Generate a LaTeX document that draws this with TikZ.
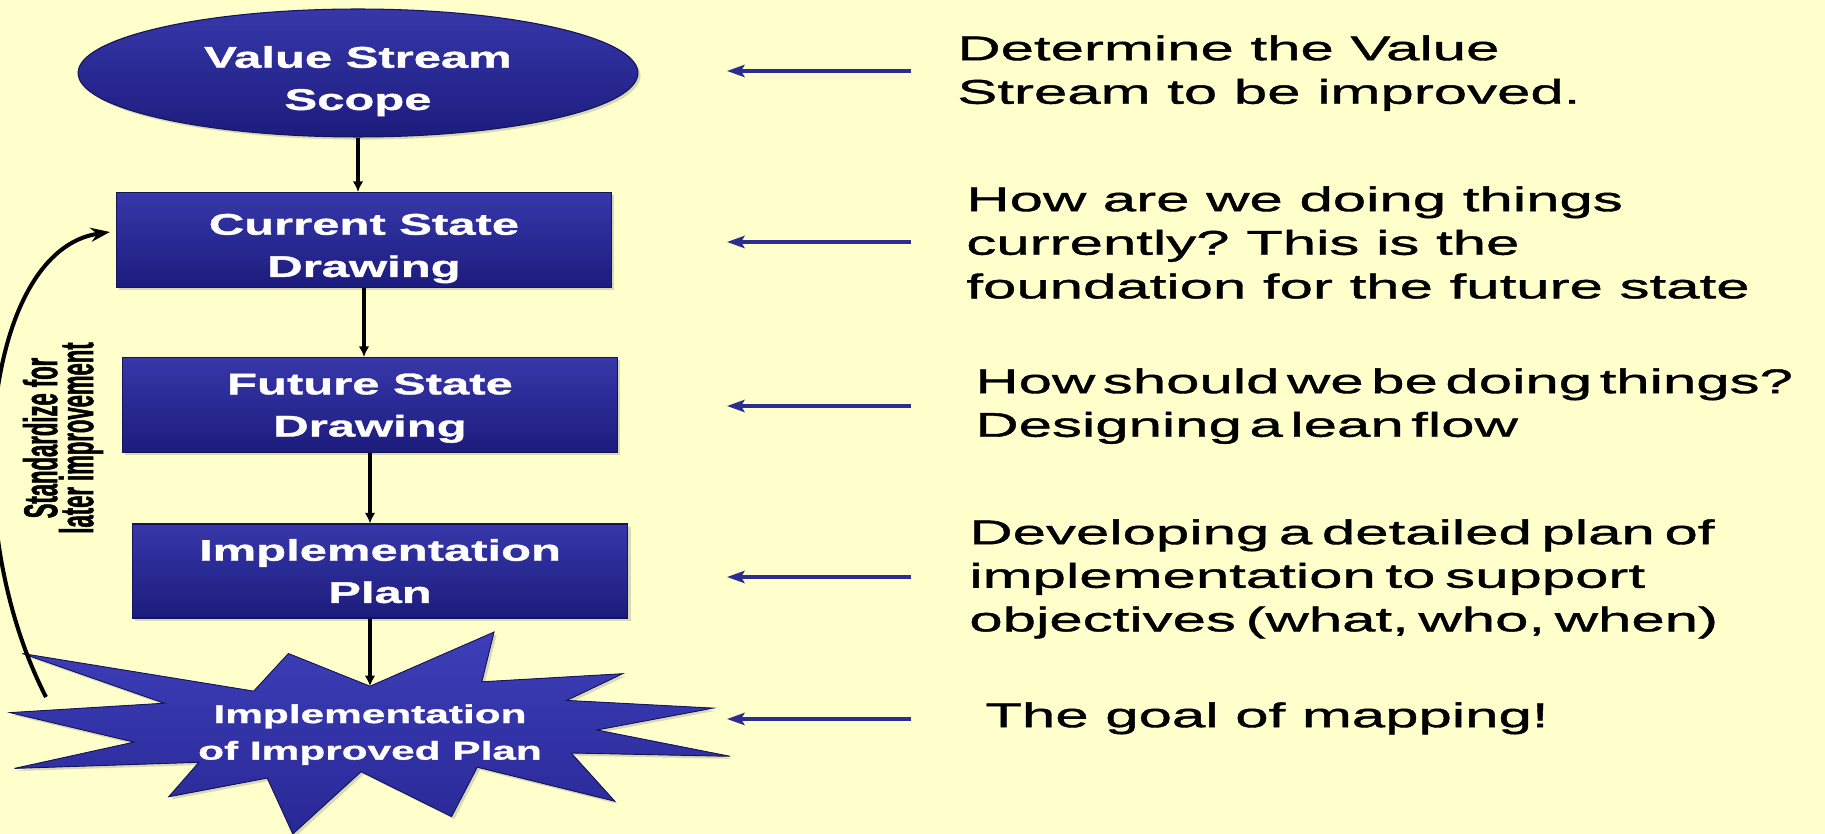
\documentclass[tikz,border=0pt]{standalone}
\usepackage{fontspec}
\setmainfont{Liberation Sans}
\newfontfamily\rtfont[FakeStretch=1.75,FakeBold=1.2]{Liberation Sans}
\newfontfamily\bxfont[FakeStretch=1.64,FakeBold=1.2]{Liberation Sans}
\newfontfamily\vtfont[FakeStretch=0.465,FakeBold=1]{Liberation Sans}
\newcommand\tightspaces{\spaceskip=4.3pt plus 1pt minus 1pt\relax}
\newcommand\semispaces{\spaceskip=5.5pt plus 1pt minus 1pt\relax}
\usetikzlibrary{shapes.geometric,arrows.meta,shadows}
\definecolor{bg}{RGB}{255,255,204}
\definecolor{boxtop}{RGB}{55,55,170}
\definecolor{boxbot}{RGB}{28,28,125}
\definecolor{boxedge}{RGB}{20,20,90}
\definecolor{startop}{RGB}{62,62,185}
\definecolor{starbot}{RGB}{40,40,150}
\definecolor{arrowblue}{RGB}{45,45,145}
\begin{document}
\begin{tikzpicture}[x=0.02cm,y=-0.02cm,
  stepbox/.style={draw=boxedge, line width=0.6pt, top color=boxtop, bottom color=boxbot,
    text=white, font=\bxfont\bfseries\fontsize{17}{24}\selectfont, align=center,
    text depth=0pt, inner sep=0pt,
    drop shadow={opacity=0.3,shadow xshift=1.5pt,shadow yshift=-1.5pt}},
  flow/.style={-{Latex[length=6pt,width=6pt]}, line width=1.8pt, black},
  pointer/.style={-{Stealth[length=10pt,width=7pt,inset=2pt]}, line width=1.9pt, arrowblue},
  note/.style={anchor=north west, inner sep=0pt, align=left,
    font=\rtfont\fontsize{19.5}{24.8}\selectfont\frenchspacing}
]
\fill[bg] (0,0) rectangle (1825,834);
\useasboundingbox (0,0) rectangle (1825,834);

% left column shapes
\node[stepbox, ellipse, minimum width=11.2cm, minimum height=2.56cm, text height=42pt] (vss) at (358,73) {Value Stream\\Scope};
\node[stepbox, minimum width=9.9cm, minimum height=1.9cm, text height=42pt] (cur) at (364,240) {Current State\\Drawing};
\node[stepbox, minimum width=9.9cm, minimum height=1.9cm] (fut) at (370,405) {Future State\\Drawing};
\node[stepbox, minimum width=9.92cm, minimum height=1.88cm] (impl) at (380,571) {Implementation\\Plan};

% explosion shape
\filldraw[top color=startop, bottom color=starbot, draw=boxedge, line width=0.5pt,
  drop shadow={opacity=0.3,shadow xshift=1.5pt,shadow yshift=-1.5pt}]
  (370,686.2) -- (494.1,632) -- (481.8,681.8) -- (622.7,673.7) -- (566.7,700.4)
  -- (713.2,708.1) -- (596.9,730.0) -- (730,756.3) -- (571.2,753.0) -- (614.8,801.2)
  -- (477.3,767.2) -- (451.6,816.6) -- (361.1,771.7) -- (292.8,834) -- (267.2,778.1)
  -- (168.7,796.8) -- (198.9,762.3) -- (14.5,768.4) -- (134.1,742.1) -- (10,712.6)
  -- (164.2,703.2) -- (22.3,653.5) -- (253.7,691.1) -- (288.4,653.5) -- cycle;
\coordinate (notch) at (370,686.2);
\node[text=white, align=center, text depth=0pt, inner sep=0pt,
  font=\bxfont\bfseries\fontsize{14.7}{20.8}\selectfont] (star) at (370,732) {Implementation\\of Improved Plan};

% flow arrows
\draw[flow] (vss.south) -- (vss.south |- cur.north);
\draw[flow] (cur.south) -- (cur.south |- fut.north);
\draw[flow] (fut.south) -- (fut.south |- impl.north);
\draw[flow] (impl.south -| notch) -- (notch);

% feedback loop
\coordinate (loopstart) at (46,697);
\coordinate (loopend) at (110,232);
\draw[line width=2.3pt, -{Stealth[length=11pt,width=8pt]}] (loopstart) .. controls (-45,520) and (-15,250) .. (loopend);
\node[rotate=90, font=\vtfont\bfseries\fontsize{27}{20.5}\selectfont, align=center,
  text depth=0pt, inner sep=0pt] (std) at (58,438) {Standardize for\\later improvement};

% pointer arrows
\coordinate (p1s) at (911,71);  \coordinate (p1e) at (727,71);
\coordinate (p2s) at (911,242); \coordinate (p2e) at (727,242);
\coordinate (p3s) at (911,406); \coordinate (p3e) at (727,406);
\coordinate (p4s) at (911,577); \coordinate (p4e) at (727,577);
\coordinate (p5s) at (911,719); \coordinate (p5e) at (727,719);
\draw[pointer] (p1s) -- (p1e);
\draw[pointer] (p2s) -- (p2e);
\draw[pointer] (p3s) -- (p3e);
\draw[pointer] (p4s) -- (p4e);
\draw[pointer] (p5s) -- (p5e);

% notes
\node[note] (n1) at (957,35) {Determine the Value\\Stream to be improved.};
\node[note] (n2) at (966,186) {How are we doing things\\currently? This is the\\foundation for the future state};
\node[note] (n3) at (975,368) {\tightspaces How should we be doing things?\\\tightspaces Designing a lean flow};
\node[note] (n4) at (969,519) {\semispaces Developing a detailed plan of\\\semispaces implementation to support\\\semispaces objectives (what, who, when)};
\node[note] (n5) at (985,702) {The goal of mapping!};
\end{tikzpicture}
\end{document}
